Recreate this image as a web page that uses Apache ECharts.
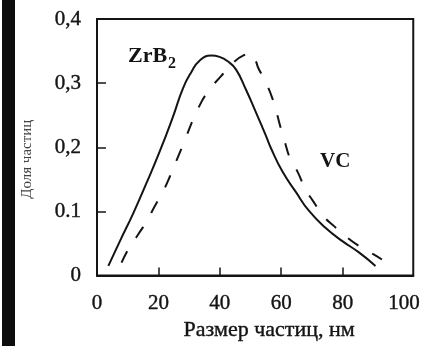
<!DOCTYPE html>
<html>
<head>
<meta charset="utf-8">
<script src="https://cdn.jsdelivr.net/npm/echarts@6/dist/echarts.min.js"></script>
<style>html,body{margin:0;padding:0;background:#fff}#c{width:423px;height:346px}</style>
</head>
<body>
<div id="c"></div>
<script>
// ZrB2 (solid line): particle size, nm
const zrb2X = [3.7, 7.5, 11.8, 16.1, 20.4, 24.7, 28.0, 30.7, 33.4, 37.2, 39.9, 42.6, 45.3, 48.5, 51.8, 55.0, 56.7, 60.4, 64.8, 69.0, 74.5, 79.8, 85.3, 90.7];
const zrb2Y = [0.015, 0.054, 0.097, 0.144, 0.193, 0.247, 0.292, 0.317, 0.335, 0.343, 0.341, 0.334, 0.321, 0.290, 0.254, 0.218, 0.198, 0.162, 0.130, 0.101, 0.074, 0.054, 0.036, 0.015];
// VC (dashed line)
const vcX = [8.0, 10.2, 13.4, 16.1, 18.8, 21.5, 23.7, 27.5, 33.4, 37.2, 40.4, 43.7, 48.0, 50.0, 52.8, 54.5, 57.2, 59.9, 61.0, 63.1, 65.3, 68.0, 70.1, 73.9, 77.2, 81.5, 85.3, 90.1, 92.8];
const vcY = [0.020, 0.041, 0.064, 0.084, 0.108, 0.131, 0.154, 0.198, 0.265, 0.293, 0.311, 0.329, 0.344, 0.346, 0.321, 0.306, 0.275, 0.229, 0.211, 0.180, 0.162, 0.133, 0.118, 0.092, 0.077, 0.059, 0.046, 0.033, 0.025];
// axis ticks and labels
const xTickValues = [20, 40, 60, 80];
const xLabelValues = [0, 20, 40, 60, 80, 100];
const yTickValues = [0.1, 0.2, 0.3];
const yLabelValues = [0, 0.1, 0.2, 0.3, 0.4];
const yLabelTexts = ['0', '0.1', '0,2', '0,3', '0,4'];
const xName = 'Размер частиц, нм';
const yName = 'Доля частиц';
const seriesNames = ['ZrB2', 'VC'];

const FONT = "'Liberation Serif', 'Times New Roman', serif";
const INK = '#141414';

const chart = echarts.init(document.getElementById('c'), null, {renderer: 'canvas'});
chart.setOption({
  animation: false,
  backgroundColor: '#ffffff',
  grid: {left: 97, right: 8, top: 19, bottom: 68, show: true, borderColor: INK, borderWidth: 2, backgroundColor: 'transparent'},
  xAxis: {
    type: 'value', min: 0, max: 103,
    name: xName, nameLocation: 'middle', nameGap: 41,
    nameTextStyle: {fontFamily: FONT, fontSize: 22, color: INK, textBorderColor: INK, textBorderWidth: 0.4, padding: [0, 0, 0, 28]},
    axisLine: {show: true, lineStyle: {color: INK, width: 2}},
    axisTick: {show: true, inside: true, length: 8, customValues: xTickValues, lineStyle: {color: INK, width: 1.5}},
    axisLabel: {customValues: xLabelValues, fontFamily: FONT, fontSize: 21, color: INK, textBorderColor: INK, textBorderWidth: 0.4, margin: 17},
    splitLine: {show: false}
  },
  yAxis: {
    type: 'value', min: 0, max: 0.4,
    name: yName, nameLocation: 'middle', nameGap: 62, nameRotate: 90,
    nameTextStyle: {fontFamily: FONT, fontSize: 15, color: '#444', padding: [0, 24, 0, 0]},
    axisLine: {show: true, lineStyle: {color: INK, width: 2}},
    axisTick: {show: true, inside: true, length: 9, customValues: yTickValues, lineStyle: {color: INK, width: 1.5}},
    axisLabel: {customValues: yLabelValues, fontFamily: FONT, fontSize: 21, color: INK, textBorderColor: INK, textBorderWidth: 0.4, margin: 16,
      formatter: v => { const i = yLabelValues.findIndex(t => Math.abs(t - v) < 1e-9); return i >= 0 ? yLabelTexts[i] : ''; }},
    splitLine: {show: false}
  },
  series: [
    {name: seriesNames[0], type: 'line', showSymbol: false, smooth: 0.5,
     data: zrb2X.map((x, i) => [x, zrb2Y[i]]),
     lineStyle: {color: INK, width: 2}},
    {name: seriesNames[1], type: 'line', showSymbol: false, smooth: 0.5,
     data: vcX.map((x, i) => [x, vcY[i]]),
     lineStyle: {color: INK, width: 2, type: [13, 16]}}
  ],
  graphic: [
    {type: 'rect', left: 2, top: 0, shape: {width: 13, height: 346}, style: {fill: '#0d0d0d'}, silent: true},
    {type: 'text', left: 128, top: 45, style: {text: 'ZrB', font: "bold 22px " + FONT, fill: INK}},
    {type: 'text', left: 168, top: 56, style: {text: '2', font: "bold 16px " + FONT, fill: INK}},
    {type: 'text', left: 320, top: 151, style: {text: 'VC', font: "bold 21px " + FONT, fill: INK}}
  ]
});
</script>
</body>
</html>
